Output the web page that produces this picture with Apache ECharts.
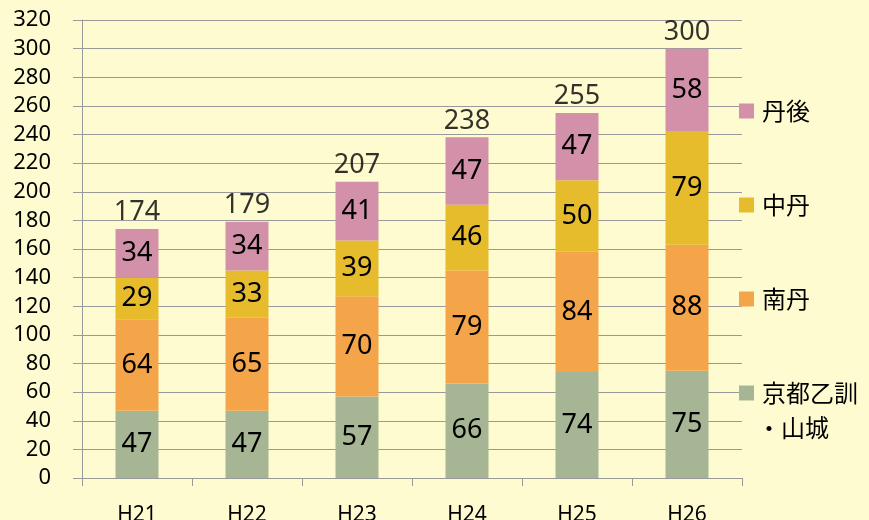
<!DOCTYPE html>
<html>
<head>
<meta charset="utf-8">
<script src="https://cdn.jsdelivr.net/npm/echarts@6/dist/echarts.min.js"></script>
<style>html,body{margin:0;padding:0;background:#FFFBD0;}#c{width:869px;height:520px;}</style>
</head>
<body>
<div id="c"></div>
<script>
const categories = ['H21', 'H22', 'H23', 'H24', 'H25', 'H26'];
const kyotoYamashiro = [47, 47, 57, 66, 74, 75];
const nantan = [64, 65, 70, 79, 84, 88];
const chutan = [29, 33, 39, 46, 50, 79];
const tango = [34, 34, 41, 47, 47, 58];
const totals = [174, 179, 207, 238, 255, 300];
const yTicks = {min: 0, max: 320, interval: 20};

const numFont = 'Noto Sans';
const cjkFont = 'Noto Sans CJK JP';
const labelStyle = {show: true, position: 'inside', color: '#000', fontSize: 27, fontFamily: numFont};

const chart = echarts.init(document.getElementById('c'));
function barSeries(name, data, color) {
  return {name, type: 'bar', stack: 'total', data, barWidth: 43,
    itemStyle: {color}, label: labelStyle, emphasis: {disabled: true}};
}
chart.setOption({
  backgroundColor: '#FFFBD0',
  animation: false,
  grid: {left: 82, right: 127, top: 20, bottom: 42, containLabel: false, outerBoundsMode: 'none'},
  xAxis: {
    type: 'category', data: categories,
    axisLine: {lineStyle: {color: '#999', width: 1}},
    axisTick: {show: true, length: 8, lineStyle: {color: '#999'}},
    axisLabel: {margin: 27, color: '#000', fontSize: 21, fontFamily: numFont}
  },
  yAxis: {
    type: 'value', min: yTicks.min, max: yTicks.max, interval: yTicks.interval,
    axisLine: {show: true, lineStyle: {color: '#999', width: 1}},
    axisTick: {show: true, length: 9, lineStyle: {color: '#999'}},
    axisLabel: {margin: 31, color: '#000', fontSize: 22, fontFamily: numFont},
    splitLine: {lineStyle: {color: '#999', width: 1}}
  },
  legend: {
    orient: 'vertical', right: 'auto', left: 734, top: 91,
    data: ['丹後', '中丹', '南丹', '京都乙訓・山城'],
    icon: 'rect', itemWidth: 15, itemHeight: 15, itemGap: 64,
    formatter: n => n === '京都乙訓・山城' ? '京都乙訓' : n,
    textStyle: {fontSize: 24, fontFamily: cjkFont, color: '#000', lineHeight: 30, padding: [0, 0, 0, 3]},
    selectedMode: false
  },
  graphic: [{type: 'text', left: 757, top: 416, style: {text: '・山城', font: '24px "Noto Sans CJK JP"', fill: '#000'}}],
  series: [
    barSeries('京都乙訓・山城', kyotoYamashiro, '#A6B694'),
    barSeries('南丹', nantan, '#F4A449'),
    barSeries('中丹', chutan, '#E6BC2C'),
    barSeries('丹後', tango, '#D291A9'),
    {name: 'total', type: 'scatter', data: totals, symbolSize: 0, silent: true,
      label: {show: true, position: 'top', distance: 3, color: '#000', fontSize: 27, fontFamily: numFont}}
  ]
});
</script>
</body>
</html>
